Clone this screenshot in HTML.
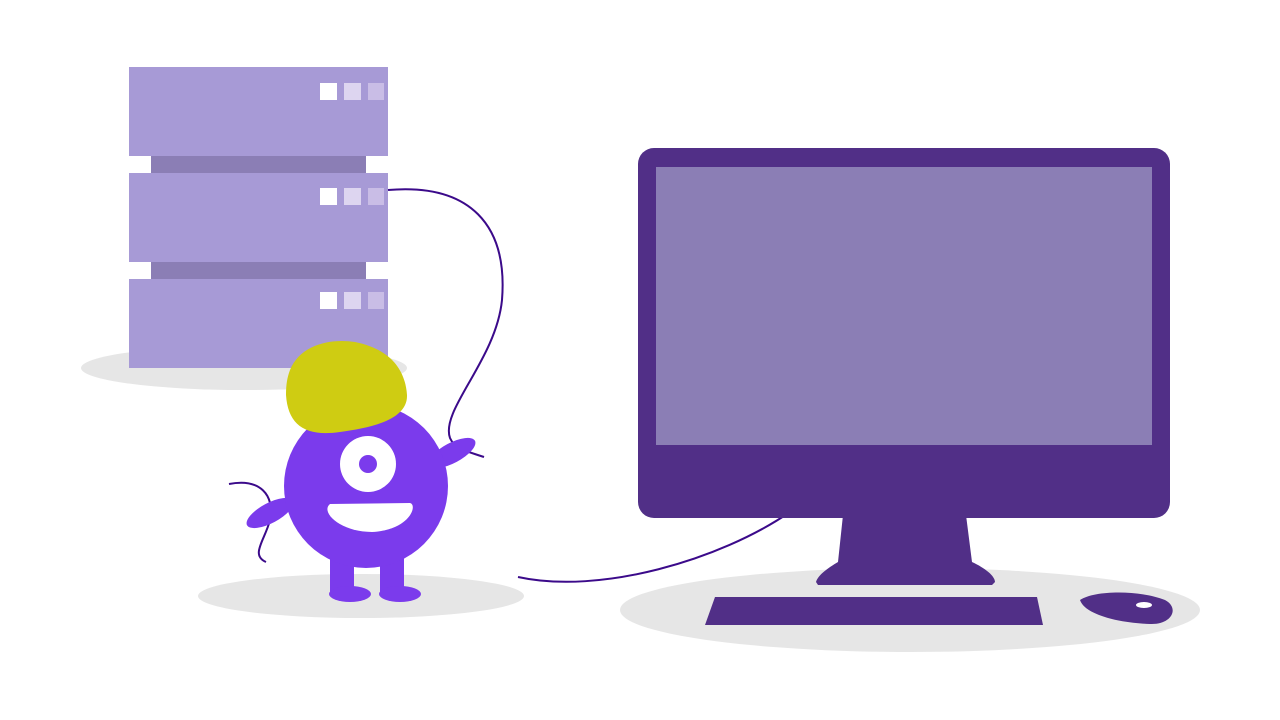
<!DOCTYPE html>
<html><head><meta charset="utf-8"><style>html,body{margin:0;padding:0;background:#fff;width:1280px;height:720px;overflow:hidden}</style></head>
<body>
<svg width="1280" height="720" viewBox="0 0 1280 720" xmlns="http://www.w3.org/2000/svg">
<!-- shadows -->
<ellipse cx="244" cy="368" rx="163" ry="22" fill="#e6e6e6"/>
<ellipse cx="361" cy="596" rx="163" ry="22" fill="#e6e6e6"/>
<ellipse cx="910" cy="610" rx="290" ry="42" fill="#e6e6e6"/>
<!-- server -->
<rect x="151" y="150" width="215" height="30" fill="#8b7eb5"/>
<rect x="151" y="256" width="215" height="30" fill="#8b7eb5"/>
<rect x="129" y="67" width="259" height="89" fill="#a79ad6"/>
<rect x="129" y="173" width="259" height="89" fill="#a79ad6"/>
<rect x="129" y="279" width="259" height="89" fill="#a79ad6"/>
<g>
<rect x="320" y="83" width="17" height="17" fill="#fff"/><rect x="344" y="83" width="17" height="17" fill="#ddd5f0"/><rect x="368" y="83" width="16" height="17" fill="#c9bde6"/>
<rect x="320" y="188" width="17" height="17" fill="#fff"/><rect x="344" y="188" width="17" height="17" fill="#ddd5f0"/><rect x="368" y="188" width="16" height="17" fill="#c9bde6"/>
<rect x="320" y="292" width="17" height="17" fill="#fff"/><rect x="344" y="292" width="17" height="17" fill="#ddd5f0"/><rect x="368" y="292" width="16" height="17" fill="#c9bde6"/>
</g>
<!-- cables -->
<g fill="none" stroke="#3b0a8a" stroke-width="2">
<path d="M388,190 C470,183 508,225 502,300 C496,360 440,410 450,438 C455,450 470,452 484,457"/>
<path d="M229,484 C260,478 275,495 270,520 C265,540 250,555 266,562"/>
<path d="M518,577 C600,595 720,560 790,512"/>
</g>
<!-- monitor -->
<path d="M843,515 L966,515 L972,562 C985,568 995,576 995,582 L992,585 L818,585 L816,582 C818,575 828,568 838,562 Z" fill="#512f87"/>
<rect x="638" y="148" width="532" height="370" rx="16" fill="#512f87"/>
<rect x="656" y="167" width="496" height="278" fill="#8b7eb5"/>
<polygon points="715,597 1037,597 1043,625 705,625" fill="#512f87"/>
<path d="M1080,600 C1095,590 1140,590 1165,600 C1180,608 1172,625 1150,624 C1120,623 1085,615 1080,600 Z" fill="#512f87"/>
<ellipse cx="1144" cy="605" rx="8" ry="3" fill="#fff"/>
<!-- character -->
<ellipse cx="270" cy="513" rx="26" ry="10" transform="rotate(-28 270 513)" fill="#7b3bec"/>
<ellipse cx="452" cy="453" rx="26" ry="10" transform="rotate(-28 452 453)" fill="#7b3bec"/>
<rect x="330" y="540" width="24" height="55" fill="#7b3bec"/>
<rect x="380" y="540" width="24" height="55" fill="#7b3bec"/>
<ellipse cx="350" cy="594" rx="21" ry="8" fill="#7b3bec"/>
<ellipse cx="400" cy="594" rx="21" ry="8" fill="#7b3bec"/>
<circle cx="366" cy="486" r="82" fill="#7b3bec"/>
<circle cx="368" cy="464" r="28" fill="#fff"/>
<circle cx="368" cy="464" r="9" fill="#7b3bec"/>
<path d="M330,504 L410,503 C418,505 410,530 372,532 C340,532 320,512 330,504 Z" fill="#fff"/>
<path d="M290,370 C300,345 330,338 355,342 C385,348 405,365 407,395 C408,420 370,428 340,432 C305,437 288,425 286,395 C286,385 287,378 290,370 Z" fill="#cfcc12"/>
</svg>
</body></html>
